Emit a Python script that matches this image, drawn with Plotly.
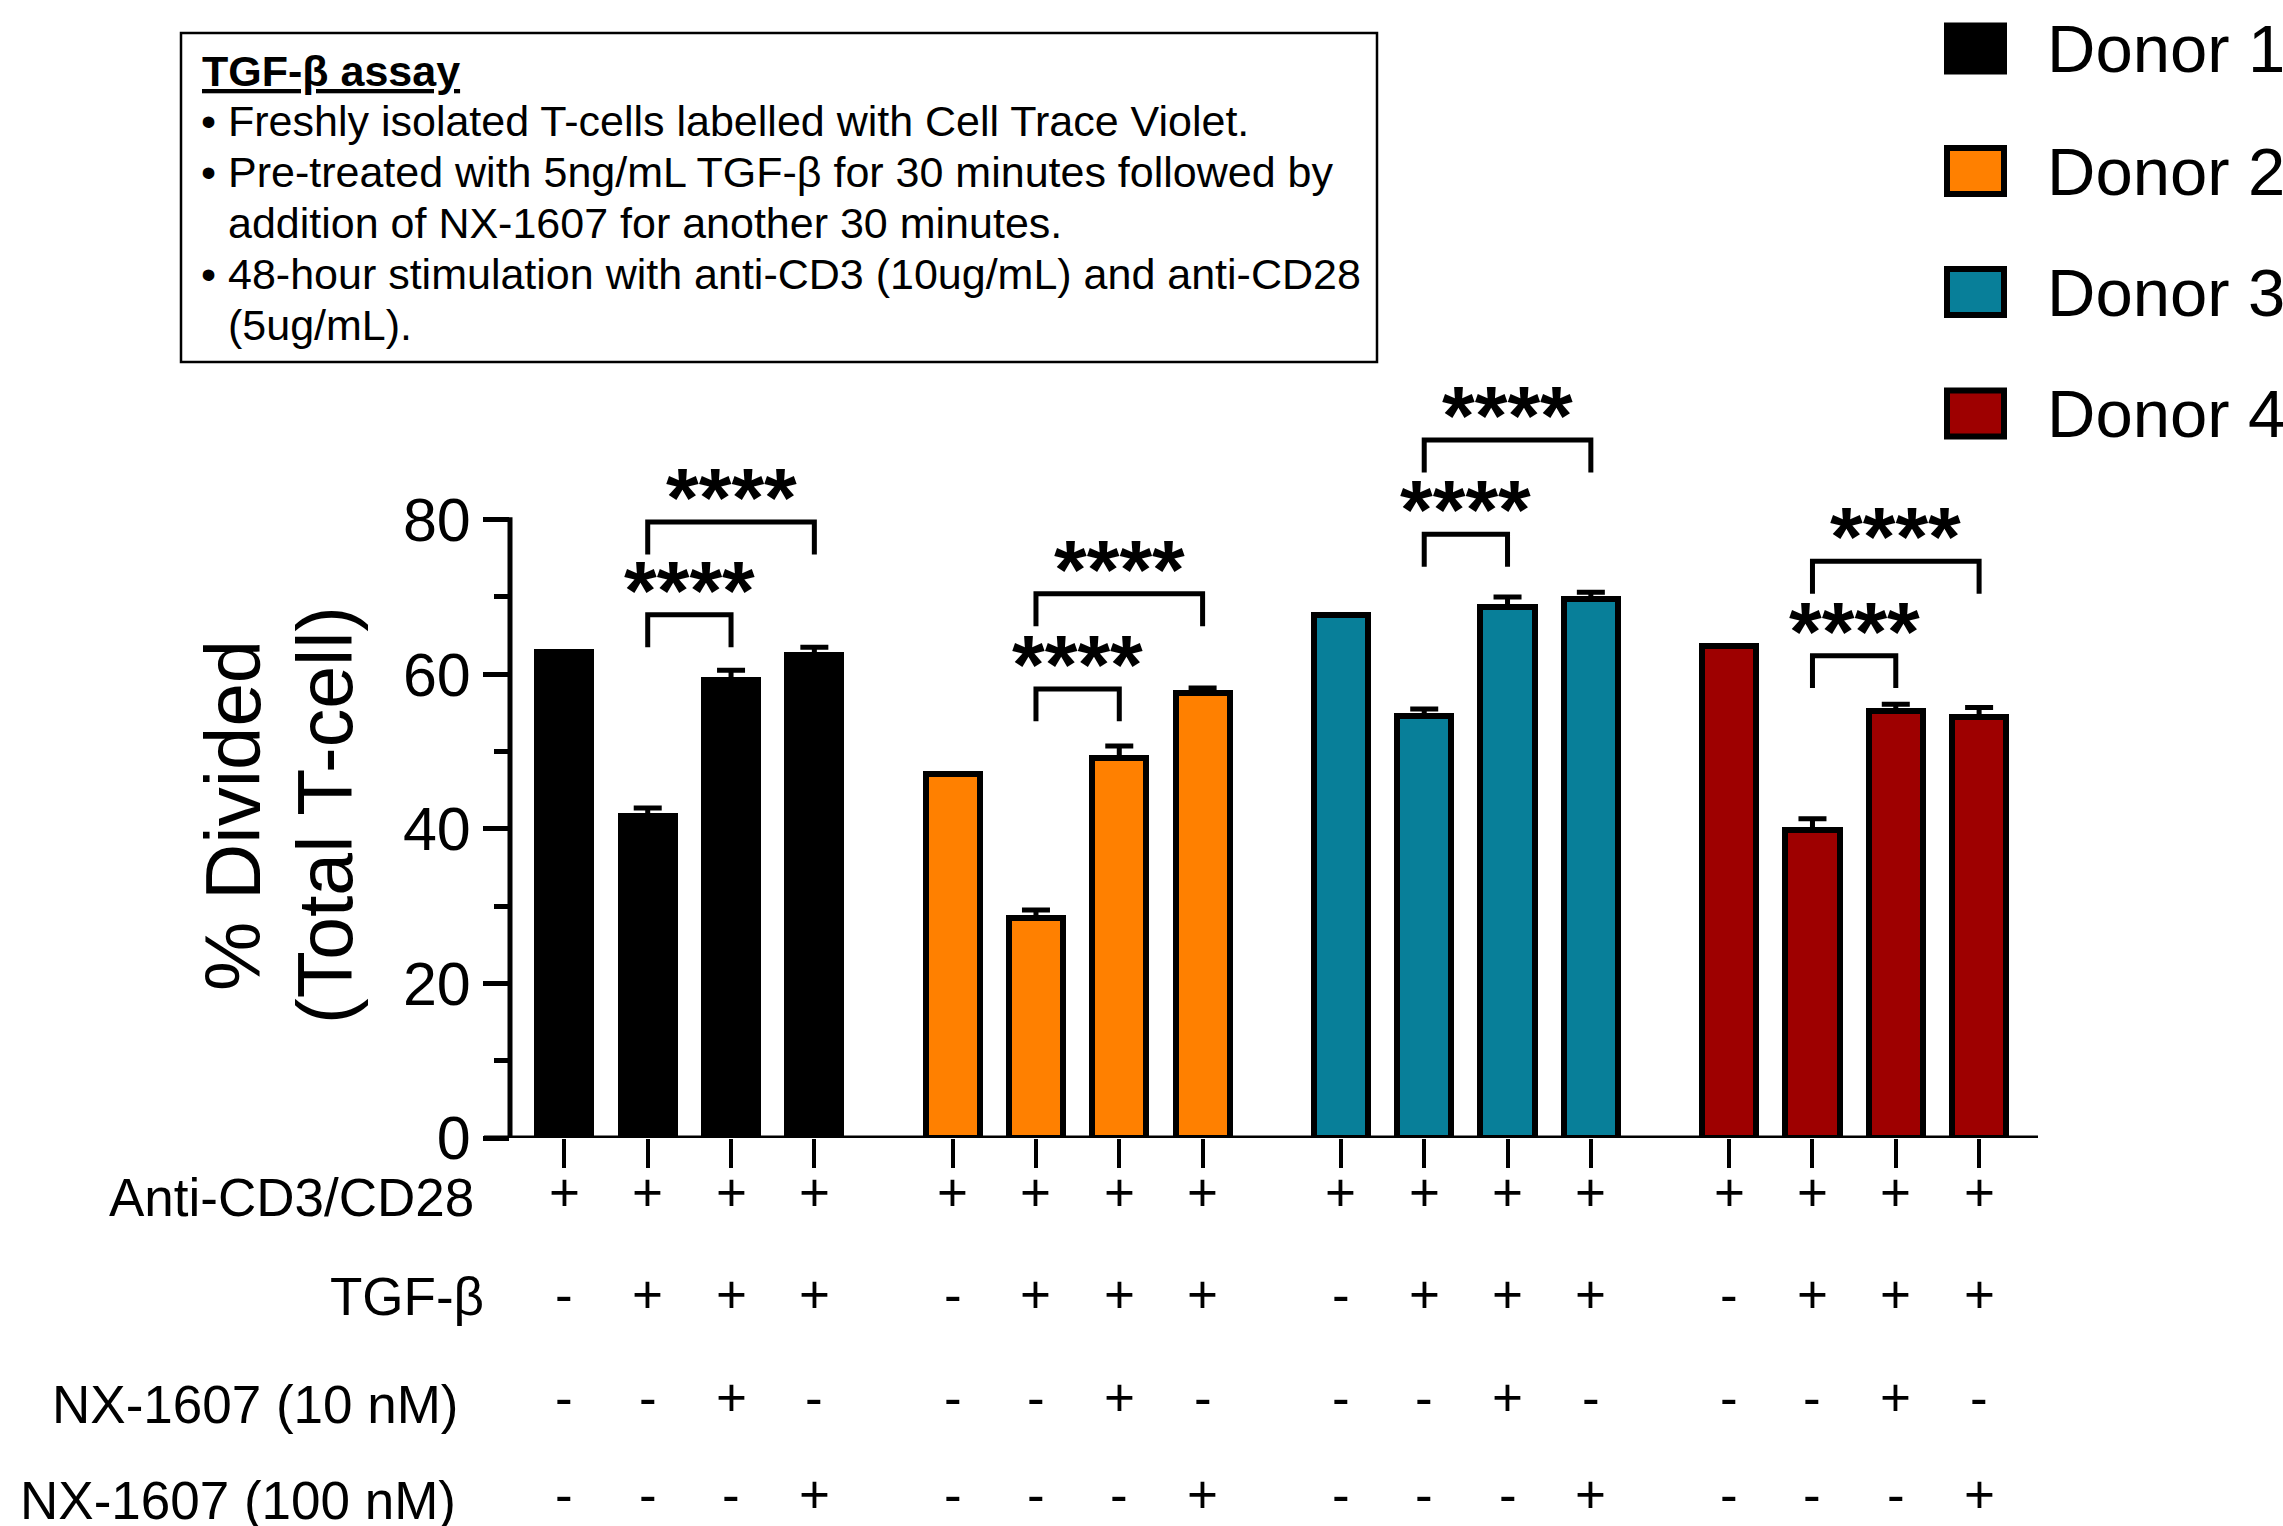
import plotly.graph_objects as go

# ---------------- data ----------------
donors = ["Donor 1", "Donor 2", "Donor 3", "Donor 4"]
colors = ["#000000", "#FF8000", "#087F99", "#9E0000"]
values = {
    "Donor 1": [62.9, 41.6, 59.2, 62.5],
    "Donor 2": [47.1, 28.5, 49.2, 57.6],
    "Donor 3": [67.7, 54.6, 68.7, 69.7],
    "Donor 4": [63.6, 39.8, 55.3, 54.5],
}
errors = {
    "Donor 1": [None, 1.1, 1.3, 1.0],
    "Donor 2": [None, 1.0, 1.5, 0.6],
    "Donor 3": [None, 0.9, 1.3, 0.9],
    "Donor 4": [None, 1.5, 0.8, 1.2],
}
# significance brackets: (from bar index, to bar index, level, label)
brackets = {
    "Donor 1": [(1, 2, 67.7, "****"), (1, 3, 79.7, "****")],
    "Donor 2": [(1, 2, 58.1, "****"), (1, 3, 70.4, "****")],
    "Donor 3": [(1, 2, 78.1, "****"), (1, 3, 90.3, "****")],
    "Donor 4": [(1, 2, 62.4, "****"), (1, 3, 74.6, "****")],
}
row_labels = ["Anti-CD3/CD28", "TGF-β", "NX-1607 (10 nM)", "NX-1607 (100 nM)"]
row_signs = [
    ["+", "+", "+", "+"],
    ["-", "+", "+", "+"],
    ["-", "-", "+", "-"],
    ["-", "-", "-", "+"],
]
y_ticks = [0, 20, 40, 60, 80]
y_minor = [10, 30, 50, 70]
box_title = "TGF-β assay"
box_lines = [
    ("• ", "Freshly isolated T-cells labelled with Cell Trace Violet."),
    ("• ", "Pre-treated with 5ng/mL TGF-β for 30 minutes followed by"),
    ("", "addition of NX-1607 for another 30 minutes."),
    ("• ", "48-hour stimulation with anti-CD3 (10ug/mL) and anti-CD28"),
    ("", "(5ug/mL)."),
]

# ---------------- layout helpers ----------------
W, H = 2283, 1526
ML, MR, MT, MB = 510, 245, 365, 388
PW, PH = W - ML - MR, H - MT - MB
FONT = "Liberation Sans, Arial, sans-serif"
GROUP_STEP = 4.66
BAR_W = 0.65
LW = 5


def px_x(p):
    return (p - ML) / PW


def px_y(p):
    return (H - MB - p) / PH


def xpos(g, i):
    return g * GROUP_STEP + i


fig = go.Figure()
shapes = []
annotations = []

for g, d in enumerate(donors):
    xs = [xpos(g, i) for i in range(4)]
    fig.add_trace(go.Bar(
        x=xs, y=values[d], width=BAR_W,
        marker=dict(color=colors[g], line=dict(color="black", width=LW + 1)),
        showlegend=False, hoverinfo="skip",
    ))
    ex = [x for x, e in zip(xs, errors[d]) if e is not None]
    ey = [v for v, e in zip(values[d], errors[d]) if e is not None]
    ee = [e for e in errors[d] if e is not None]
    fig.add_trace(go.Scatter(
        x=ex, y=ey, mode="markers", marker=dict(size=1, opacity=0),
        error_y=dict(type="data", array=ee, arrayminus=[0] * len(ee), symmetric=False,
                     color="black", thickness=LW, width=14),
        showlegend=False, hoverinfo="skip",
    ))
    for (a, b, lvl, lab) in brackets[d]:
        x0, x1 = xpos(g, a), xpos(g, b)
        shapes.append(dict(type="path", xref="x", yref="y",
                           path=f"M {x0},{lvl-4.2} L {x0},{lvl} L {x1},{lvl} L {x1},{lvl-4.2}",
                           line=dict(color="black", width=LW)))
        annotations.append(dict(x=(x0 + x1) / 2, y=lvl + 3.1, xref="x", yref="y",
                                text=f"<b>{lab}</b>", showarrow=False,
                                xanchor="center", yanchor="middle",
                                font=dict(family=FONT, size=84, color="black")))
    # +/- table
    sym_y = [1192, 1294, 1397, 1494]
    for r in range(4):
        for i in range(4):
            annotations.append(dict(x=xpos(g, i), y=px_y(sym_y[r]), xref="x", yref="paper",
                                    text=row_signs[r][i], showarrow=False,
                                    xanchor="center", yanchor="middle",
                                    font=dict(family=FONT, size=53, color="black")))

# row labels
lab_y = [1197, 1296, 1404, 1500]
lab_x = [476, 486, 461, 458]
for r, t in enumerate(row_labels):
    annotations.append(dict(x=px_x(lab_x[r]), y=px_y(lab_y[r]), xref="paper", yref="paper",
                            text=t, showarrow=False, xanchor="right", yanchor="middle",
                            font=dict(family=FONT, size=53, color="black")))

# axis lines
shapes.append(dict(type="line", xref="paper", yref="y", x0=0, x1=0, y0=-0.7, y1=80.3,
                   line=dict(color="black", width=LW)))
shapes.append(dict(type="line", xref="paper", yref="y", x0=px_x(484), x1=1, y0=0, y1=0,
                   line=dict(color="black", width=LW)))

# y-axis title
annotations.append(dict(x=px_x(233), y=px_y(816), xref="paper", yref="paper",
                        text="% Divided", textangle=-90, showarrow=False,
                        xanchor="center", yanchor="middle",
                        font=dict(family=FONT, size=78, color="black")))
annotations.append(dict(x=px_x(325), y=px_y(815), xref="paper", yref="paper",
                        text="(Total T-cell)", textangle=-90, showarrow=False,
                        xanchor="center", yanchor="middle",
                        font=dict(family=FONT, size=77, color="black")))

# info box
BOX_FS = 43
shapes.append(dict(type="rect", xref="paper", yref="paper",
                   x0=px_x(181), x1=px_x(1377), y0=px_y(33), y1=px_y(362),
                   line=dict(color="black", width=2.5), fillcolor="white"))
annotations.append(dict(x=px_x(200), y=px_y(71), xref="paper", yref="paper",
                        text=f"<b><u>{box_title}</u></b>", showarrow=False,
                        xanchor="left", yanchor="middle",
                        font=dict(family=FONT, size=BOX_FS, color="black")))
line_y = [121, 172, 223, 274, 325]
for (bul, txt), yy in zip(box_lines, line_y):
    if bul:
        annotations.append(dict(x=px_x(199), y=px_y(yy), xref="paper", yref="paper",
                                text="•", showarrow=False, xanchor="left", yanchor="middle",
                                font=dict(family=FONT, size=BOX_FS, color="black")))
    annotations.append(dict(x=px_x(226), y=px_y(yy), xref="paper", yref="paper",
                            text=txt, showarrow=False, xanchor="left", yanchor="middle",
                            font=dict(family=FONT, size=BOX_FS, color="black")))

# legend
leg_y = [48.5, 171, 292, 413.5]
for g, d in enumerate(donors):
    cy = leg_y[g]
    shapes.append(dict(type="rect", xref="paper", yref="paper",
                       x0=px_x(1947), x1=px_x(2004), y0=px_y(cy - 23), y1=px_y(cy + 23),
                       line=dict(color="black", width=LW + 1), fillcolor=colors[g]))
    annotations.append(dict(x=px_x(2045), y=px_y(cy), xref="paper", yref="paper",
                            text=d, showarrow=False, xanchor="left", yanchor="middle",
                            font=dict(family=FONT, size=67, color="black")))

tickx = [xpos(g, i) for g in range(4) for i in range(4)]
fig.update_layout(
    width=W, height=H,
    margin=dict(l=ML, r=MR, t=MT, b=MB, pad=0),
    paper_bgcolor="white", plot_bgcolor="white",
    bargap=0, barmode="overlay",
    shapes=shapes, annotations=annotations,
    font=dict(family=FONT, color="black"),
    xaxis=dict(range=[-0.653, xpos(3, 3) + 0.707], showgrid=False, zeroline=False,
               showline=False, tickvals=tickx, ticktext=[""] * len(tickx),
               ticks="outside", ticklen=29, tickwidth=LW - 1, tickcolor="black",
               showticklabels=False, fixedrange=True),
    yaxis=dict(range=[0, 100], showgrid=False, zeroline=False, showline=False,
               tickvals=y_ticks, ticktext=[str(v) for v in y_ticks],
               ticks="outside", ticklen=26, tickwidth=LW, tickcolor="black",
               tickfont=dict(family=FONT, size=61, color="black"),
               minor=dict(tickvals=y_minor, ticks="outside", ticklen=15,
                          tickwidth=LW, tickcolor="black"),
               fixedrange=True),
)

fig.write_html(
    "out.html",
    config={"displayModeBar": False},
    post_script="document.body.style.margin='0px';document.body.style.overflow='hidden';",
)
